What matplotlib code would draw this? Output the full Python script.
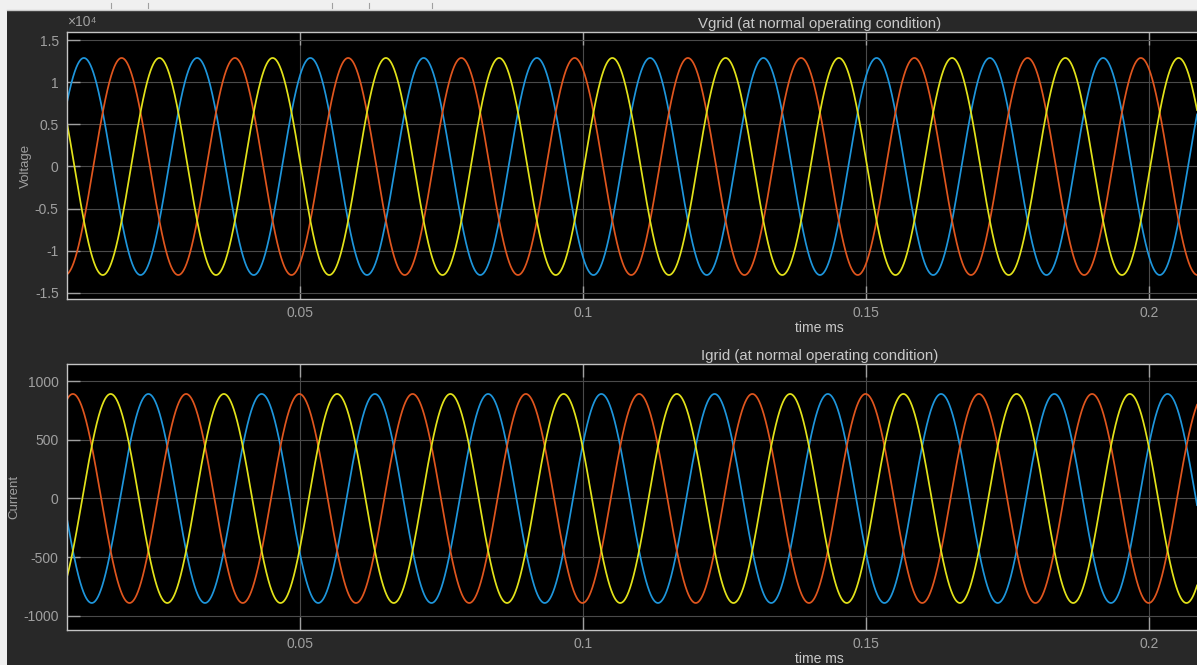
import numpy as np
import matplotlib.pyplot as plt
from matplotlib.patches import Rectangle
from matplotlib.lines import Line2D
from matplotlib.ticker import FuncFormatter

plt.rcParams['font.family'] = ['Liberation Sans', 'DejaVu Sans']
plt.rcParams['axes.unicode_minus'] = False

# scope readings: three-phase grid voltage and current (50 Hz)
freq = 50
t_start, t_end = 0.0, 0.21
phase_names = ['b', 'c', 'a']          # blue, orange, yellow traces
v_peak = 12900
i_peak = 890
v_phase_deg = [-123, 117, -3]
i_phase_deg = [32, -88, 152]

x_ticks = [0.05, 0.1, 0.15, 0.2]
v_ticks = [-1.5e4, -1e4, -0.5e4, 0, 0.5e4, 1e4, 1.5e4]
v_tick_labels = ['-1.5', '-1', '-0.5', '0', '0.5', '1', '1.5']
i_ticks = [-1000, -500, 0, 500, 1000]

colors = ['#1e96dc', '#e0561e', '#e3e31a']
bg = '#282828'
txt = '#a0a0a0'

t = np.linspace(t_start, t_end, 20000)
w = 2 * np.pi * freq

fig = plt.figure(figsize=(11.97, 6.65), dpi=100)
fig.patch.set_facecolor('#f0f0f0')
fig.add_artist(Rectangle((7 / 1197, 0), 1, (665 - 10) / 665,
                         transform=fig.transFigure, facecolor=bg, edgecolor='none', zorder=0))
fig.add_artist(Line2D([7 / 1197, 1], [(665 - 9.5) / 665] * 2, transform=fig.transFigure,
                      color='#c8c8c8', lw=1))
for xp in [111, 148, 332, 369, 432]:
    fig.add_artist(Line2D([xp / 1197] * 2, [(665 - 8) / 665, (665 - 3) / 665],
                          transform=fig.transFigure, color='#a0a0a0', lw=0.8))

ax1 = fig.add_axes([67 / 1197, 366 / 665, 1 - 67 / 1197, 266.7 / 665])
ax2 = fig.add_axes([67 / 1197, 35 / 665, 1 - 67 / 1197, 266 / 665])


def style(ax):
    ax.set_facecolor('black')
    for s in ['left', 'top', 'bottom']:
        ax.spines[s].set_color('#c4c4c4')
        ax.spines[s].set_linewidth(1)
    ax.spines['right'].set_visible(False)
    ax.grid(True, color='#4a4a4a', lw=0.8)
    ax.set_axisbelow(True)
    ax.tick_params(direction='in', length=9.5, width=1, color='#a0a0a0',
                   labelcolor=txt, labelsize=10, top=True, pad=6)
    ax.tick_params(axis='x', pad=5)
    ax.set_xlim(0.00885, 0.20842)
    ax.set_xticks(x_ticks)
    ax.xaxis.set_major_formatter(FuncFormatter(lambda v, p: '%g' % v))


for ph, c in zip(v_phase_deg, colors):
    ax1.plot(t, v_peak * np.sin(w * t + np.deg2rad(ph)), color=c, lw=1.25)
for ph, c in zip(i_phase_deg, colors):
    ax2.plot(t, i_peak * np.sin(w * t + np.deg2rad(ph)), color=c, lw=1.25)

style(ax1)
style(ax2)

ax1.set_ylim(-1.575e4, 1.595e4)
ax1.set_yticks(v_ticks)
ax1.set_yticklabels(v_tick_labels)
ax1.text(0, 1.012, '×10⁴', transform=ax1.transAxes, color=txt, fontsize=10,
         ha='left', va='bottom')

ax2.set_ylim(-1120, 1145)
ax2.set_yticks(i_ticks)

ax1.set_title('Vgrid (at normal operating condition)', x=0.666, pad=3,
              color='#c8c8c8', fontsize=10.8)
ax2.set_title('Igrid (at normal operating condition)', x=0.666, pad=3,
              color='#c8c8c8', fontsize=10.8)

for ax in [ax1, ax2]:
    ax.set_xlabel('time ms', color='#c8c8c8', fontsize=10)
    ax.xaxis.set_label_coords(0.666, -0.083)

ax1.set_ylabel('Voltage', color=txt, fontsize=9.5, va='center')
ax1.yaxis.set_label_coords(-0.0363, 0.5)
ax2.set_ylabel('Current', color=txt, fontsize=9.5, va='center')
ax2.yaxis.set_label_coords(-0.0469, 0.5)

fig.savefig('out.png', dpi=100, facecolor=fig.get_facecolor())
